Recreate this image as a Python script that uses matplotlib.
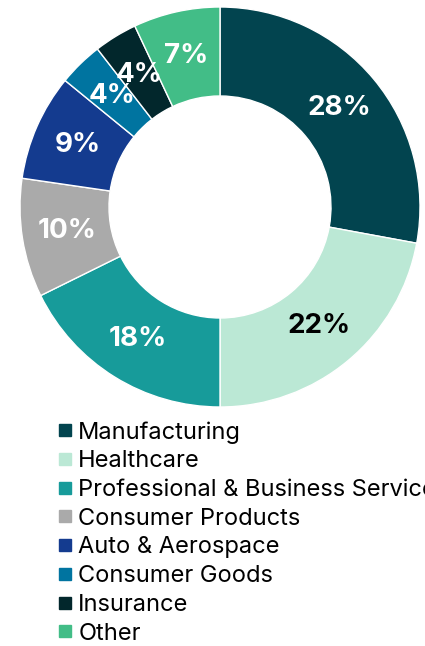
import matplotlib.pyplot as plt
from matplotlib.lines import Line2D
from matplotlib import rcParams
rcParams['font.family'] = ['Inter', 'DejaVu Sans']

sectors = ['Manufacturing', 'Healthcare', 'Professional & Business Services',
           'Consumer Products', 'Auto & Aerospace', 'Consumer Goods',
           'Insurance', 'Other']
shares = [27.9, 22.1, 17.7, 9.6, 8.6, 3.6, 3.5, 7.0]
colors = ['#02444F', '#BBE8D5', '#179B9A', '#AAAAAA',
          '#143B8F', '#0074A0', '#02272C', '#42BD87']
label_colors = ['white', 'black', 'white', 'white',
                'white', 'white', 'white', 'white']

fig = plt.figure(figsize=(4.25, 6.46), dpi=100)
ax = fig.add_axes([20/425, 1 - 407/646, 400/425, 400/646])

wedges, texts, autotexts = ax.pie(
    shares, colors=colors, startangle=90, counterclock=False,
    autopct='%.0f%%', pctdistance=0.775,
    wedgeprops=dict(width=0.445, edgecolor='white', linewidth=1))
for t, c in zip(autotexts, label_colors):
    t.set_color(c)
    t.set_fontsize(20)
    t.set_fontweight('bold')
ax.set_xlim(-1, 1)
ax.set_ylim(-1, 1)

handles = [Line2D([], [], marker='s', ls='', color=c, markersize=8.5) for c in colors]
fig.legend(handles, sectors, loc='upper left', bbox_to_anchor=(57/425, 1 - 421/646),
           frameon=False, fontsize=17, handlelength=0.7, handletextpad=0.2,
           labelspacing=0.285, borderpad=0, borderaxespad=0)

fig.savefig('out.png', dpi=100)
